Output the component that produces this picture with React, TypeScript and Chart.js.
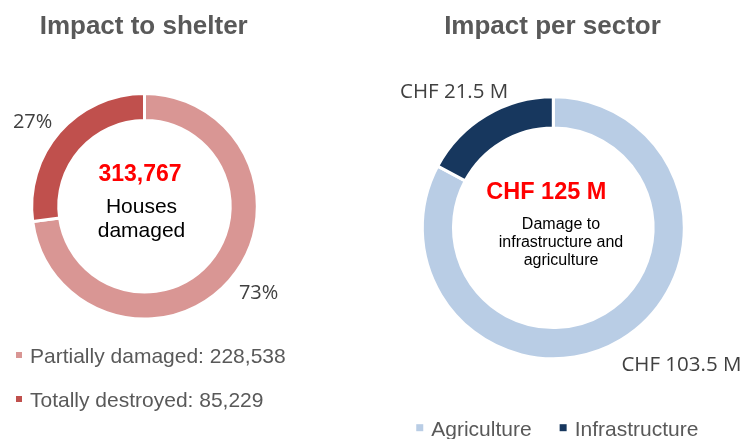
import React, { useEffect, useRef } from "react";
import { Chart, registerables } from "chart.js";

Chart.register(...registerables);

// ---------- data ----------
const shelterTitle = "Impact to shelter";
const shelterLabels = ["Partially damaged", "Totally destroyed"];
const shelterValues = [228538, 85229];
const shelterCenterLines = ["Houses", "damaged"];

const sectorTitle = "Impact per sector";
const sectorLabels = ["Agriculture", "Infrastructure"];
const sectorValues = [103.5, 21.5]; // CHF millions
const sectorCenterLines = ["Damage to", "infrastructure and", "agriculture"];

// ---------- styles ----------
const shelterColors = ["#D99694", "#C0504D"];
const sectorColors = ["#B9CDE5", "#17375E"];
const BORDER = 3;
const ARIAL = '"Liberation Sans", Arial, sans-serif';
const LABEL_FONT = '"Open Sans", sans-serif';
const GREY = "#595959";
const LABEL_GREY = "#404040";

const fmtInt = (v: number) => v.toLocaleString("en-US");
const sum = (a: number[]) => a.reduce((s, v) => s + v, 0);

type Cfg = {
  kind: "shelter" | "sector";
  labels: string[];
  values: number[];
  colors: string[];
  cutout: string;
  padding: { left: number; right: number; top: number; bottom: number };
  labelGap: number;
  labelSize: number;
  labelNudge: number[][];
};

function makeOverlay(cfg: Cfg) {
  return {
    id: "overlay",
    afterDraw(chart: any) {
      const ctx: CanvasRenderingContext2D = chart.ctx;
      const meta = chart.getDatasetMeta(0);
      const arcs = meta.data as any[];
      const p0 = arcs[0].getProps(["x", "y", "outerRadius"], true);
      const cx = p0.x;
      const cy = p0.y;
      const R = p0.outerRadius - BORDER / 2;
      const total = sum(cfg.values);
      ctx.save();
      ctx.textBaseline = "alphabetic";

      // title
      ctx.font = `bold 26px ${ARIAL}`;
      ctx.fillStyle = GREY;
      ctx.textAlign = "center";
      ctx.fillText(cfg.kind === "shelter" ? shelterTitle : sectorTitle, cx - 0.8, 34);

      // data labels
      ctx.font = `${cfg.labelSize}px ${LABEL_FONT}`;
      ctx.fillStyle = LABEL_GREY;
      arcs.forEach((arc, i) => {
        const p = arc.getProps(["startAngle", "endAngle"], true);
        const mid = (p.startAngle + p.endAngle) / 2;
        const d = R + cfg.labelGap;
        const x = cx + Math.cos(mid) * d + cfg.labelNudge[i][0];
        const y = cy + Math.sin(mid) * d + cfg.labelNudge[i][1];
        const v = cfg.values[i];
        const txt =
          cfg.kind === "shelter"
            ? `${Math.round((v / total) * 100)}%`
            : `CHF ${v} M`;
        ctx.fillText(txt, x, y + cfg.labelSize * 0.714 / 2);
      });

      // center text
      if (cfg.kind === "shelter") {
        ctx.font = `bold 23px ${ARIAL}`;
        ctx.fillStyle = "#FF0000";
        ctx.fillText(fmtInt(total), cx - 4.5, cy - 25.3);
        ctx.font = `21px ${ARIAL}`;
        ctx.fillStyle = "#000000";
        shelterCenterLines.forEach((t, i) => ctx.fillText(t, cx - 3, cy + 7 + i * 24));
      } else {
        ctx.font = `bold 23.5px ${ARIAL}`;
        ctx.fillStyle = "#FF0000";
        ctx.fillText(`CHF ${total} M`, cx - 7, cy - 28.5);
        ctx.font = `16px ${ARIAL}`;
        ctx.fillStyle = "#000000";
        sectorCenterLines.forEach((t, i) => ctx.fillText(t, cx + 7.7, cy + 1.5 + i * 18));
      }

      // legend
      ctx.font = `21px ${ARIAL}`;
      ctx.textAlign = "left";
      if (cfg.kind === "shelter") {
        cfg.labels.forEach((l, i) => {
          const base = 363.3 + i * 44;
          ctx.fillStyle = cfg.colors[i];
          ctx.fillRect(16, base - 11.3, 6, 6);
          ctx.fillStyle = GREY;
          ctx.fillText(`${l}: ${fmtInt(cfg.values[i])}`, 30, base);
        });
      } else {
        const sq = 7, g1 = 8, g2 = 28;
        const widths = cfg.labels.map((l) => ctx.measureText(l).width);
        const totalW = sum(widths) + cfg.labels.length * (sq + g1) + g2 * (cfg.labels.length - 1);
        let x = cx + 4 - totalW / 2;
        const base = 436;
        cfg.labels.forEach((l, i) => {
          ctx.fillStyle = cfg.colors[i];
          ctx.fillRect(x, base - 11.8, sq, sq);
          x += sq + g1;
          ctx.fillStyle = GREY;
          ctx.fillText(l, x, base);
          x += widths[i] + g2;
        });
      }
      ctx.restore();
    },
  };
}

function Donut({ cfg, left, width }: { cfg: Cfg; left: number; width: number }) {
  const ref = useRef<HTMLCanvasElement>(null);
  useEffect(() => {
    const chart = new Chart(ref.current as HTMLCanvasElement, {
      type: "doughnut",
      data: {
        labels: cfg.labels,
        datasets: [
          {
            data: cfg.values,
            backgroundColor: cfg.colors,
            borderColor: "#ffffff",
            borderWidth: BORDER,
            hoverBorderWidth: BORDER,
            hoverOffset: 0,
            offset: 0,
          } as any,
        ],
      },
      options: {
        responsive: false,
        animation: false,
        events: [],
        cutout: cfg.cutout,
        layout: { padding: cfg.padding },
        plugins: {
          legend: { display: false },
          tooltip: { enabled: false },
          title: { display: false },
        },
      } as any,
      plugins: [makeOverlay(cfg) as any],
    });
    return () => chart.destroy();
  }, []);
  return (
    <canvas
      ref={ref}
      width={width}
      height={439}
      style={{ position: "absolute", left, top: 0, width, height: 439 }}
    />
  );
}

const shelterCfg: Cfg = {
  kind: "shelter",
  labels: shelterLabels,
  values: shelterValues,
  colors: shelterColors,
  cutout: "76%",
  padding: { left: 30.2, right: 41.2, top: 92, bottom: 118.4 },
  labelGap: 18.5,
  labelSize: 20,
  labelNudge: [
    [16.3, 0],
    [-14.1, 0],
  ],
};

const sectorCfg: Cfg = {
  kind: "sector",
  labels: sectorLabels,
  values: sectorValues,
  colors: sectorColors,
  cutout: "76.2%",
  padding: { left: 56.8, right: 58.2, top: 95.3, bottom: 78.7 },
  labelGap: 29.5,
  labelSize: 20.5,
  labelNudge: [
    [46.3, -0.6],
    [-17.4, -1],
  ],
};

export default function App() {
  return (
    <div
      style={{
        position: "absolute",
        left: 0,
        top: 0,
        width: 744,
        height: 439,
        background: "#ffffff",
        overflow: "hidden",
      }}
    >
      <Donut cfg={shelterCfg} left={0} width={300} />
      <Donut cfg={sectorCfg} left={364} width={380} />
    </div>
  );
}
